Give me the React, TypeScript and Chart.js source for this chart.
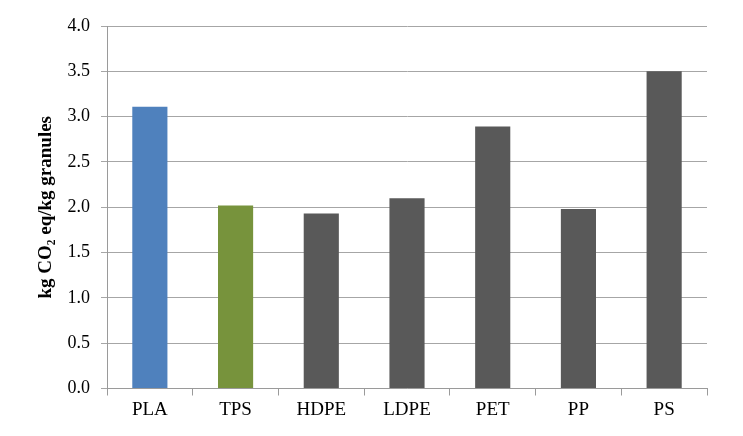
import React, { useEffect, useRef } from "react";
import { Chart, registerables } from "chart.js";

Chart.register(...registerables);

const categories = ["PLA", "TPS", "HDPE", "LDPE", "PET", "PP", "PS"];
const values = [3.11, 2.02, 1.93, 2.1, 2.89, 1.98, 3.5];
const barColors = ["#4F81BD", "#77933C", "#595959", "#595959", "#595959", "#595959", "#595959"];
const yTitle = "kg CO\u2082 eq/kg granules";

export default function App() {
  const ref = useRef<HTMLCanvasElement | null>(null);
  useEffect(() => {
    if (!ref.current) return;
    const family = "'Liberation Serif', 'Times New Roman', serif";
    const chart = new Chart(ref.current, {
      type: "bar",
      data: {
        labels: categories,
        datasets: [
          {
            data: values,
            backgroundColor: barColors,
            borderWidth: 0,
            barPercentage: 0.41,
            categoryPercentage: 1,
          },
        ],
      },
      options: {
        animation: false,
        responsive: false,
        devicePixelRatio: 1,
        layout: { padding: { top: 26, right: 36, left: 0, bottom: 0 } },
        plugins: { legend: { display: false }, tooltip: { enabled: false } },
        scales: {
          x: {
            grid: {
              offset: true,
              drawOnChartArea: false,
              drawTicks: true,
              tickLength: 7,
              color: "#9a9a9a",
            },
            border: { color: "#9a9a9a", width: 1 },
            ticks: { color: "#000", font: { family, size: 19 }, padding: 3 },
            afterFit: (s: any) => {
              s.height = 436 - 388.5;
            },
          },
          y: {
            min: 0,
            max: 4,
            grid: { color: "#a6a6a6", tickLength: 6, lineWidth: 1 },
            border: { color: "#9a9a9a", width: 1 },
            ticks: {
              stepSize: 0.5,
              color: "#000",
              font: { family, size: 18 },
              padding: 11,
              callback: (v: any) => Number(v).toFixed(1),
            },
            title: {
              display: true,
              text: yTitle,
              color: "#000",
              font: { family, size: 19, weight: "bold" },
              padding: { top: 35, bottom: 0 },
            },
            afterFit: (s: any) => {
              s.width = 107;
            },
          },
        },
      },
    });
    return () => chart.destroy();
  }, []);
  return (
    <div style={{ position: "fixed", left: 0, top: 0, width: 743, height: 436, background: "#fff" }}>
      <canvas ref={ref} width={743} height={436} style={{ width: 743, height: 436, display: "block" }} />
    </div>
  );
}
